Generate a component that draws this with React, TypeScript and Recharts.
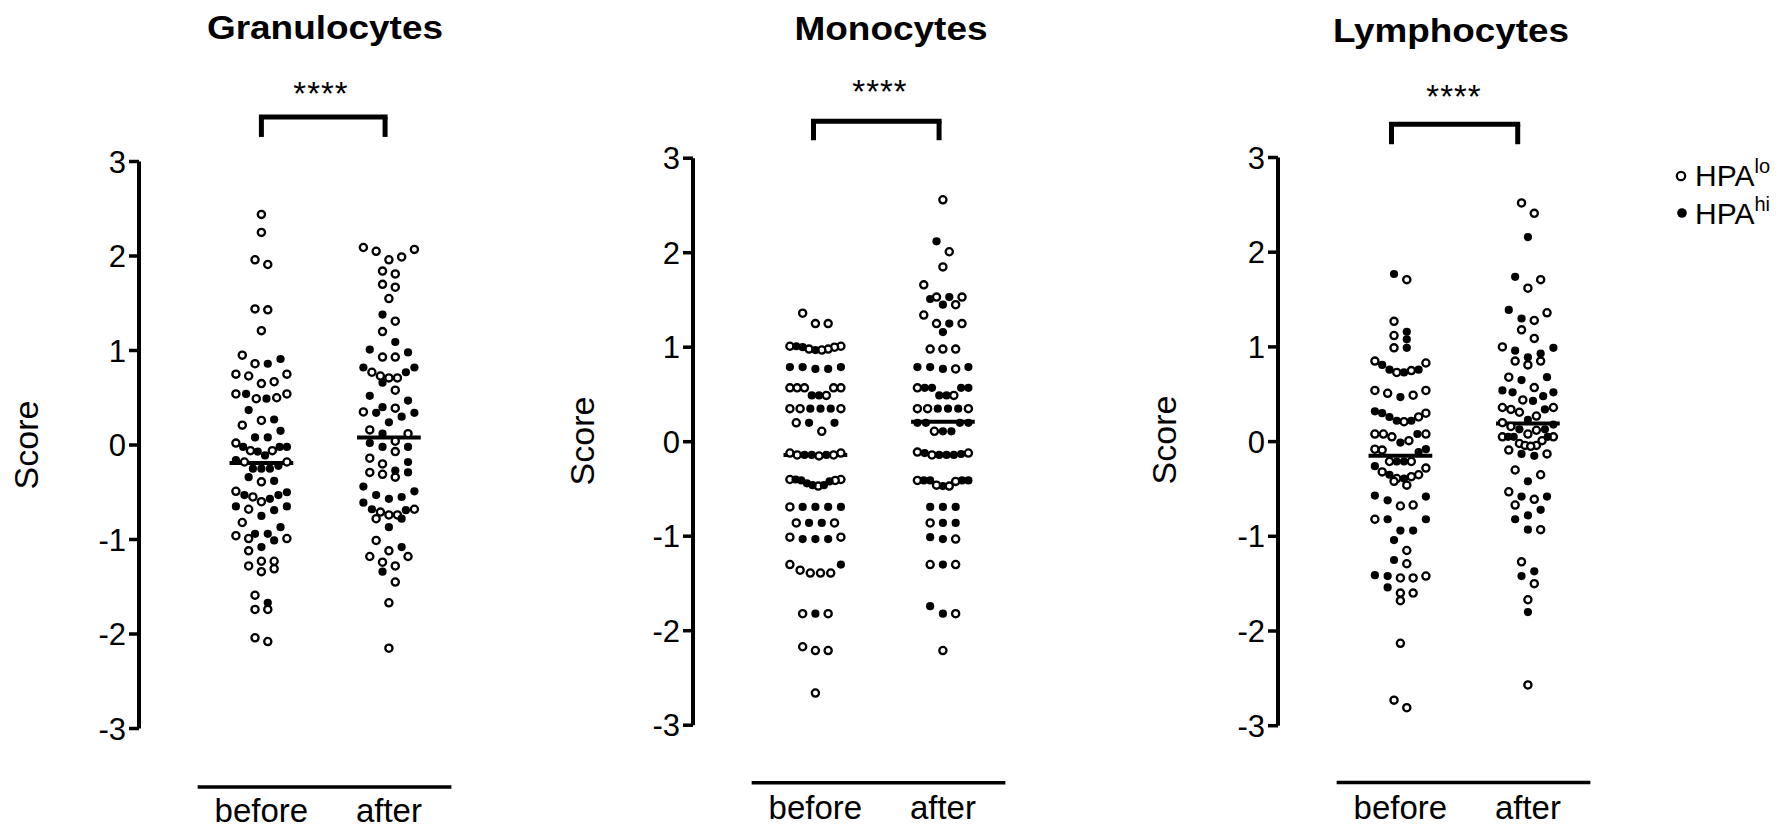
import React from 'react';
import { ScatterChart, Scatter, XAxis, YAxis, ReferenceLine } from 'recharts';

const FONT = '"Liberation Sans", Arial, Helvetica, sans-serif';

const groups = ['before', 'after'];
const scoreTicks = [-3, -2, -1, 0, 1, 2, 3];
const panelTitles = ['Granulocytes', 'Monocytes', 'Lymphocytes'];
const significance = ['****', '****', '****'];

// scores, HPAlo = open, HPAhi = filled
const granBeforeLo = [2.44, 2.25, 1.96, 1.91, 1.44, 1.43, 1.21, 0.95, 0.86, 0.75, 0.75, 0.73, 0.67, 0.65, 0.54, 0.54, 0.5, 0.49, 0.26, 0.21, 0.02, -0.06, -0.06, -0.18, -0.18, -0.39, -0.49, -0.55, -0.6, -0.68, -0.82, -0.96, -0.99, -0.99, -1.12, -1.23, -1.23, -1.28, -1.31, -1.34, -1.59, -1.74, -1.74, -2.04, -2.08];
const granBeforeHi = [0.91, 0.86, 0.54, 0.49, 0.37, 0.27, 0.15, 0.08, 0.08, -0.02, -0.02, -0.02, -0.07, -0.11, -0.16, -0.22, -0.25, -0.25, -0.25, -0.34, -0.38, -0.5, -0.53, -0.53, -0.57, -0.65, -0.65, -0.69, -0.75, -0.87, -0.94, -0.94, -1.01, -1.08, -1.67];
const granAfterLo = [2.09, 2.07, 2.05, 1.99, 1.96, 1.84, 1.81, 1.7, 1.67, 1.55, 1.31, 1.2, 0.93, 0.93, 0.77, 0.73, 0.71, 0.71, 0.58, 0.39, 0.35, 0.16, 0.12, 0.04, -0.07, -0.14, -0.2, -0.29, -0.31, -0.34, -0.68, -0.71, -0.74, -0.74, -0.78, -1.01, -1.12, -1.18, -1.18, -1.24, -1.28, -1.45, -1.67, -2.15];
const granAfterHi = [1.38, 1.09, 1.01, 0.98, 0.82, 0.82, 0.77, 0.66, 0.52, 0.47, 0.4, 0.34, 0.34, 0.3, 0.24, 0.12, 0.02, -0.02, -0.02, -0.18, -0.27, -0.29, -0.44, -0.49, -0.53, -0.55, -0.57, -0.61, -0.68, -0.69, -0.78, -0.87, -1.08, -1.34];

const monoBeforeLo = [1.36, 1.25, 1.25, 1.01, 1.01, 1.0, 0.98, 0.98, 0.97, 0.57, 0.57, 0.57, 0.57, 0.57, 0.49, 0.35, 0.35, 0.35, 0.2, 0.11, -0.12, -0.12, -0.14, -0.14, -0.15, -0.4, -0.4, -0.41, -0.47, -0.69, -0.86, -0.86, -1.01, -1.01, -1.3, -1.36, -1.39, -1.39, -1.39, -1.82, -1.82, -2.17, -2.21, -2.21, -2.66];
const monoBeforeHi = [1.01, 1.0, 0.97, 0.79, 0.79, 0.79, 0.77, 0.77, 0.49, 0.49, 0.35, 0.35, 0.35, 0.2, 0.2, -0.14, -0.14, -0.14, -0.4, -0.41, -0.42, -0.44, -0.46, -0.46, -0.69, -0.69, -0.69, -0.69, -0.86, -0.86, -1.03, -1.03, -1.03, -1.3, -1.82];
const monoAfterLo = [2.56, 2.01, 1.85, 1.66, 1.53, 1.53, 1.45, 1.34, 1.25, 1.25, 0.98, 0.98, 0.98, 0.77, 0.57, 0.49, 0.35, 0.35, 0.35, 0.11, -0.11, -0.12, -0.14, -0.41, -0.42, -0.46, -0.47, -0.86, -1.03, -1.3, -1.3, -1.82, -2.21];
const monoAfterHi = [2.12, 1.53, 1.51, 1.45, 1.25, 1.16, 0.79, 0.79, 0.79, 0.77, 0.57, 0.57, 0.57, 0.57, 0.49, 0.49, 0.35, 0.35, 0.35, 0.2, 0.2, 0.2, 0.2, 0.11, 0.11, -0.12, -0.13, -0.14, -0.14, -0.14, -0.41, -0.41, -0.41, -0.41, -0.47, -0.69, -0.69, -0.69, -0.86, -0.86, -1.01, -1.03, -1.3, -1.74, -1.82];

const lymphBeforeLo = [1.71, 1.27, 1.12, 0.99, 0.85, 0.83, 0.75, 0.73, 0.54, 0.54, 0.51, 0.49, 0.3, 0.26, 0.21, 0.08, 0.08, 0.08, 0.05, 0.01, -0.08, -0.09, -0.21, -0.21, -0.28, -0.32, -0.35, -0.37, -0.39, -0.42, -0.46, -0.67, -0.68, -0.82, -1.15, -1.29, -1.42, -1.44, -1.44, -1.6, -1.6, -1.68, -2.13, -2.73, -2.81];
const lymphBeforeHi = [1.77, 1.16, 1.08, 0.99, 0.81, 0.76, 0.76, 0.73, 0.47, 0.32, 0.3, 0.26, 0.22, 0.22, 0.08, -0.01, -0.08, -0.11, -0.21, -0.21, -0.26, -0.35, -0.39, -0.57, -0.58, -0.62, -0.82, -0.82, -0.94, -0.94, -1.04, -1.25, -1.41, -1.42, -1.54];
const lymphAfterLo = [2.52, 2.41, 1.71, 1.62, 1.36, 1.28, 1.18, 1.09, 1.0, 0.85, 0.85, 0.81, 0.68, 0.57, 0.44, 0.36, 0.36, 0.34, 0.31, 0.27, 0.2, 0.16, 0.12, 0.08, 0.05, 0.05, 0.01, -0.02, -0.04, -0.04, -0.05, -0.09, -0.13, -0.3, -0.35, -0.53, -0.61, -0.67, -0.93, -1.27, -1.5, -1.67, -2.57];
const lymphAfterHi = [2.16, 1.74, 1.39, 1.3, 0.99, 0.96, 0.93, 0.89, 0.68, 0.65, 0.54, 0.52, 0.52, 0.48, 0.43, 0.34, 0.23, 0.18, 0.13, 0.13, 0.05, 0.05, 0.05, -0.13, -0.15, -0.42, -0.58, -0.58, -0.72, -0.78, -0.82, -0.93, -1.37, -1.42, -1.8];

const granMeans = [-0.19, 0.08];
const monoMeans = [-0.14, 0.21];
const lymphMeans = [-0.15, 0.19];

// layout of the dot columns
const STEP = 0.1;
const MAX_W = 0.4;
const ROW_H = 0.13;
const PX_PER_X = 127.5;
const X0 = 0.04;
const CHART_W = 460;
const AXIS_W = 120;
const RIGHT = 14;
const X1 = X0 + (CHART_W - AXIS_W - RIGHT) / PX_PER_X;
const XAXIS_H = 60;

type Dot = { x: number; y: number };

// prism style: close values share a row, higher values go to the outer slots
function swarm(center: number, lo: number[], hi: number[]) {
  const pts = [...lo.map((v) => ({ v, hi: false })), ...hi.map((v) => ({ v, hi: true }))].sort((a, b) => b.v - a.v);
  const out = { lo: [] as Dot[], hi: [] as Dot[] };
  let i = 0;
  while (i < pts.length) {
    let j = i;
    while (j < pts.length && pts[i].v - pts[j].v <= ROW_H) j++;
    const row = pts.slice(i, j);
    const n = row.length;
    const step = n > 1 ? Math.min(STEP, MAX_W / (n - 1)) : 0;
    const slots: number[] = [];
    let a = 0;
    let b = n - 1;
    while (a <= b) {
      slots.push(a++);
      if (a <= b) slots.push(b--);
    }
    row.forEach((p, k) => {
      const x = center + (slots[k] - (n - 1) / 2) * step;
      (p.hi ? out.hi : out.lo).push({ x, y: p.v });
    });
    i = j;
  }
  return out;
}

const OpenDot = (p: any) => <circle cx={p.cx} cy={p.cy} r={3.6} fill="#fff" stroke="#000" strokeWidth={2.3} />;
const FilledDot = (p: any) => <circle cx={p.cx} cy={p.cy} r={4.1} fill="#000" />;

const panels = [
  { lo: [granBeforeLo, granAfterLo], hi: [granBeforeHi, granAfterHi], means: granMeans, axisX: 138.5, top: 161.5, bottom: 728.5, bracket: [1.0, 1.97, 3.47, 3.26], base: -3.62, titleX: 325, titleY: 38.5, titleW: 236, starsX: 321, starsY: 105, scoreX: 38, scoreY: 445 },
  { lo: [monoBeforeLo, monoAfterLo], hi: [monoBeforeHi, monoAfterHi], means: monoMeans, axisX: 693, top: 158.2, bottom: 725.2, bracket: [0.985, 1.97, 3.39, 3.19], base: -3.61, titleX: 891, titleY: 40, titleW: 193, starsX: 880, starsY: 102.5, scoreX: 594, scoreY: 441 },
  { lo: [lymphBeforeLo, lymphAfterLo], hi: [lymphBeforeHi, lymphAfterHi], means: lymphMeans, axisX: 1277.7, top: 157.5, bottom: 725.7, bracket: [0.93, 1.92, 3.35, 3.14], base: -3.6, titleX: 1451, titleY: 42, titleW: 236, starsX: 1454, starsY: 108, scoreX: 1176, scoreY: 440 },
];

function Panel({ cfg }: { cfg: any }) {
  const before = swarm(1, cfg.lo[0], cfg.hi[0]);
  const after = swarm(2, cfg.lo[1], cfg.hi[1]);
  const lo = [...before.lo, ...after.lo];
  const hi = [...before.hi, ...after.hi];
  const [b1, b2, bTop, bLeg] = cfg.bracket;
  return (
    <div style={{ position: 'absolute', left: cfg.axisX - AXIS_W, top: 0 }}>
      <ScatterChart
        width={CHART_W}
        height={829}
        margin={{ top: cfg.top, right: RIGHT, bottom: 829 - cfg.bottom - XAXIS_H, left: 0 }}
      >
        <XAxis
          type="number"
          dataKey="x"
          domain={[X0, X1]}
          allowDataOverflow
          ticks={[1, 2]}
          interval={0}
          tickFormatter={(v: number) => groups[v - 1]}
          axisLine={false}
          tickLine={false}
          tickSize={0}
          tickMargin={70}
          height={XAXIS_H}
          tick={{ fontSize: 33, fill: '#000', fontFamily: FONT }}
        />
        <YAxis
          type="number"
          dataKey="y"
          domain={[-3, 3]}
          allowDataOverflow
          ticks={scoreTicks}
          interval={0}
          width={AXIS_W}
          axisLine={{ stroke: '#000', strokeWidth: 4 }}
          tickLine={{ stroke: '#000', strokeWidth: 3.5 }}
          tickSize={10}
          tickMargin={3}
          tick={{ fontSize: 31, fill: '#000', fontFamily: FONT }}
        />
        <Scatter name="HPAlo" data={lo} shape={OpenDot} isAnimationActive={false} />
        <Scatter name="HPAhi" data={hi} shape={FilledDot} isAnimationActive={false} />
        {cfg.means.map((m: number, i: number) => (
          <ReferenceLine
            key={'m' + i}
            segment={[{ x: i + 0.75, y: m }, { x: i + 1.25, y: m }]}
            stroke="#000"
            strokeWidth={4}
            ifOverflow="visible"
          />
        ))}
        <ReferenceLine segment={[{ x: b1, y: bTop }, { x: b2, y: bTop }]} stroke="#000" strokeWidth={5} strokeLinecap="square" ifOverflow="visible" />
        <ReferenceLine segment={[{ x: b1, y: bTop }, { x: b1, y: bLeg }]} stroke="#000" strokeWidth={5} ifOverflow="visible" />
        <ReferenceLine segment={[{ x: b2, y: bTop }, { x: b2, y: bLeg }]} stroke="#000" strokeWidth={5} ifOverflow="visible" />
        <ReferenceLine segment={[{ x: 0.5, y: cfg.base }, { x: 2.49, y: cfg.base }]} stroke="#000" strokeWidth={3.5} ifOverflow="visible" />
      </ScatterChart>
    </div>
  );
}

export default function App() {
  return (
    <div style={{ position: 'absolute', left: 0, top: 0, width: 1788, height: 829, background: '#fff' }}>
      {panels.map((p, i) => (
        <Panel key={i} cfg={p} />
      ))}
      <svg width={1788} height={829} style={{ position: 'absolute', left: 0, top: 0, pointerEvents: 'none' }} fontFamily={FONT}>
        {panels.map((p, i) => (
          <g key={i}>
            <text x={p.titleX} y={p.titleY} textAnchor="middle" fontSize={33} fontWeight="bold" textLength={p.titleW} lengthAdjust="spacingAndGlyphs">
              {panelTitles[i]}
            </text>
            <text x={p.starsX} y={p.starsY} textAnchor="middle" fontSize={33} letterSpacing={1}>
              {significance[i]}
            </text>
            <text x={p.scoreX} y={p.scoreY} textAnchor="middle" fontSize={34} transform={`rotate(-90 ${p.scoreX} ${p.scoreY})`}>
              Score
            </text>
          </g>
        ))}
        <circle cx={1681} cy={176} r={4.2} fill="#fff" stroke="#000" strokeWidth={2.2} />
        <text x={1695} y={186} fontSize={30}>
          HPA<tspan dy={-13} fontSize={20}>lo</tspan>
        </text>
        <circle cx={1682} cy={213} r={4.8} fill="#000" />
        <text x={1695} y={224} fontSize={30}>
          HPA<tspan dy={-13} fontSize={20}>hi</tspan>
        </text>
      </svg>
    </div>
  );
}
